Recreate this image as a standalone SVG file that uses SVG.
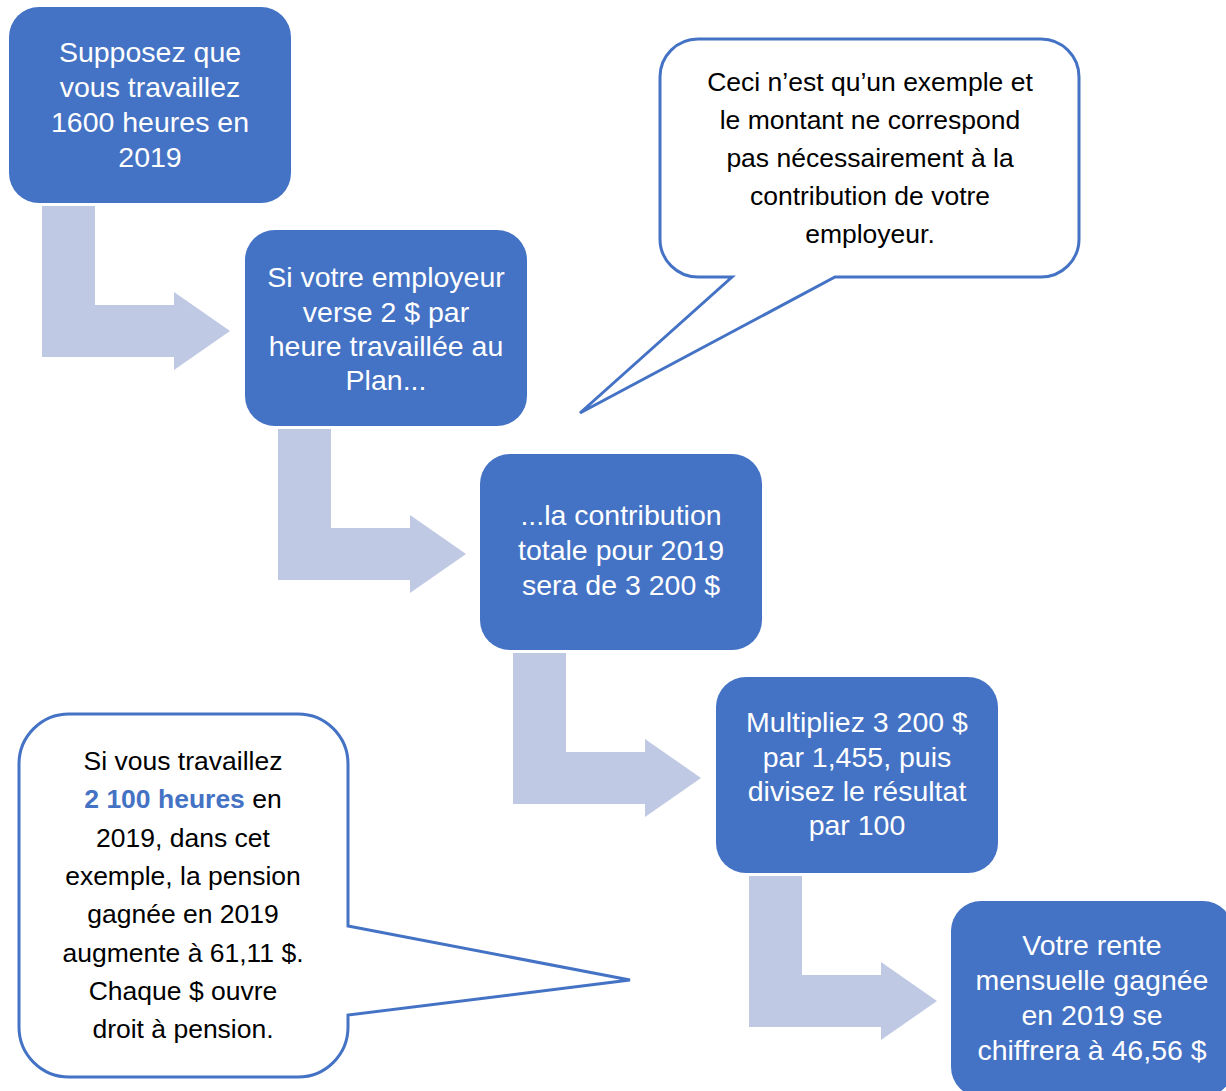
<svg xmlns="http://www.w3.org/2000/svg" xmlns:xlink="http://www.w3.org/1999/xlink" width="1226" height="1091" viewBox="0 0 1226 1091">
  <style>
    .node { fill: #4472C4; }
    .wt { font-family: "Liberation Sans", Arial, sans-serif; font-size: 28.5px; fill: #FFFFFF; text-anchor: middle; }
    .bt { font-family: "Liberation Sans", Arial, sans-serif; font-size: 26.5px; fill: #000000; text-anchor: middle; }
    .hl { fill: #4472C4; font-weight: bold; }
    .callout { fill: #FFFFFF; stroke: #4472C4; stroke-width: 3; stroke-linejoin: miter; }
    .arrow { fill: #BFC9E4; }
  </style>
  <defs>
    <polygon id="bent" class="arrow" points="0,0 53,0 53,99 132,99 132,86 188,125 132,164 132,151 0,151"/>
  </defs>
  <rect width="1226" height="1091" fill="#FFFFFF"/>

  <g id="connectors">
    <use xlink:href="#bent" href="#bent" transform="translate(42,206)"/>
    <use xlink:href="#bent" href="#bent" transform="translate(278,429)"/>
    <use xlink:href="#bent" href="#bent" transform="translate(513,653)"/>
    <use xlink:href="#bent" href="#bent" transform="translate(749,876)"/>
  </g>

  <g id="node1">
    <rect class="node" x="9" y="7" width="282" height="196" rx="30"/>
    <text class="wt"><tspan x="150" y="62">Supposez que</tspan><tspan x="150" y="97">vous travaillez</tspan><tspan x="150" y="132">1600 heures en</tspan><tspan x="150" y="167">2019</tspan></text>
  </g>

  <g id="node2">
    <rect class="node" x="245" y="230" width="282" height="196" rx="30"/>
    <text class="wt"><tspan x="386" y="287">Si votre employeur</tspan><tspan x="386" y="322">verse 2 $ par</tspan><tspan x="386" y="356">heure travaillée au</tspan><tspan x="386" y="390">Plan...</tspan></text>
  </g>

  <g id="node3">
    <rect class="node" x="480" y="454" width="282" height="196" rx="30"/>
    <text class="wt"><tspan x="621" y="525">...la contribution</tspan><tspan x="621" y="560">totale pour 2019</tspan><tspan x="621" y="595">sera de 3 200 $</tspan></text>
  </g>

  <g id="node4">
    <rect class="node" x="716" y="677" width="282" height="196" rx="30"/>
    <text class="wt"><tspan x="857" y="732">Multipliez 3 200 $</tspan><tspan x="857" y="767">par 1,455, puis</tspan><tspan x="857" y="801">divisez le résultat</tspan><tspan x="857" y="835">par 100</tspan></text>
  </g>

  <g id="node5">
    <rect class="node" x="951" y="901" width="282" height="196" rx="30"/>
    <text class="wt"><tspan x="1092" y="955">Votre rente</tspan><tspan x="1092" y="990">mensuelle gagnée</tspan><tspan x="1092" y="1025">en 2019 se</tspan><tspan x="1092" y="1060">chiffrera à 46,56 $</tspan></text>
  </g>

  <g id="callout1">
    <path class="callout" d="M 698,39 H 1041 A 38 38 0 0 1 1079,77 V 239 A 38 38 0 0 1 1041,277 H 835 L 580,413 L 732,277 H 698 A 38 38 0 0 1 660,239 V 77 A 38 38 0 0 1 698,39 Z"/>
    <text class="bt"><tspan x="870" y="91">Ceci n’est qu’un exemple et</tspan><tspan x="870" y="129">le montant ne correspond</tspan><tspan x="870" y="167">pas nécessairement à la</tspan><tspan x="870" y="205">contribution de votre</tspan><tspan x="870" y="243">employeur.</tspan></text>
  </g>

  <g id="callout2">
    <path class="callout" d="M 69,714 H 298 A 50 50 0 0 1 348,764 V 926 L 630,980 L 348,1015 V 1027 A 50 50 0 0 1 298,1077 H 69 A 50 50 0 0 1 19,1027 V 764 A 50 50 0 0 1 69,714 Z"/>
    <text class="bt"><tspan x="183" y="770">Si vous travaillez</tspan><tspan x="183" y="808"><tspan class="hl">2 100 heures</tspan> en</tspan><tspan x="183" y="847">2019, dans cet</tspan><tspan x="183" y="885">exemple, la pension</tspan><tspan x="183" y="923">gagnée en 2019</tspan><tspan x="183" y="962">augmente à 61,11 $.</tspan><tspan x="183" y="1000">Chaque $ ouvre</tspan><tspan x="183" y="1038">droit à pension.</tspan></text>
  </g>
</svg>
